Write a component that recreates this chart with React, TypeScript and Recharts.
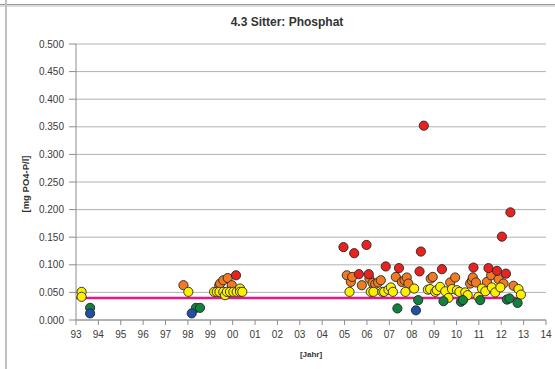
import React from 'react';
import {
  ScatterChart,
  Scatter,
  XAxis,
  YAxis,
  CartesianGrid,
  ReferenceLine
} from 'recharts';

// measured values, [year, mg PO4-P/l]
const redPoints: [number, number][] = [
  [2000.15, 0.081], [2004.95, 0.132], [2005.43, 0.121], [2005.64, 0.083], [2005.98, 0.136],
  [2006.08, 0.083], [2006.84, 0.097], [2007.43, 0.094], [2008.35, 0.088], [2008.41, 0.124],
  [2008.54, 0.352], [2009.35, 0.092], [2010.76, 0.095], [2011.43, 0.094], [2011.81, 0.089],
  [2012.03, 0.151], [2012.21, 0.084], [2012.41, 0.195],
];

const orangePoints: [number, number][] = [
  [1997.8, 0.063], [1999.4, 0.063], [1999.44, 0.066], [1999.58, 0.072], [1999.78, 0.076],
  [1999.96, 0.063], [2005.1, 0.081], [2005.28, 0.069], [2005.34, 0.078], [2005.77, 0.063],
  [2006.11, 0.075], [2006.25, 0.067], [2006.37, 0.065], [2006.5, 0.068], [2006.62, 0.072],
  [2007.29, 0.078], [2007.56, 0.069], [2007.68, 0.072], [2007.78, 0.077], [2007.85, 0.066],
  [2008.85, 0.075], [2008.94, 0.078], [2009.72, 0.068], [2009.94, 0.077], [2010.61, 0.066],
  [2010.69, 0.071], [2010.73, 0.077], [2010.87, 0.068], [2011.36, 0.069], [2011.55, 0.081],
  [2011.88, 0.074], [2012.1, 0.066], [2012.55, 0.062],
];

const yellowPoints: [number, number][] = [
  [1993.25, 0.051], [1993.25, 0.042], [1998.02, 0.051],
  [1999.17, 0.051], [1999.29, 0.051], [1999.41, 0.051], [1999.58, 0.051], [1999.66, 0.045],
  [1999.74, 0.051], [1999.88, 0.051], [2000.03, 0.051], [2000.18, 0.051], [2000.33, 0.057],
  [2000.33, 0.051], [2000.43, 0.051],
  [2005.22, 0.051], [2006.17, 0.051], [2006.29, 0.051], [2006.69, 0.051], [2006.77, 0.051],
  [2006.96, 0.055], [2007.07, 0.059], [2007.16, 0.051], [2007.72, 0.051], [2008.11, 0.057],
  [2008.72, 0.055], [2008.82, 0.056], [2009.05, 0.051], [2009.12, 0.054], [2009.27, 0.060],
  [2009.5, 0.052], [2009.64, 0.040], [2009.8, 0.056], [2010.02, 0.054], [2010.13, 0.051],
  [2010.39, 0.050], [2010.5, 0.045], [2010.98, 0.042], [2011.14, 0.057], [2011.29, 0.052],
  [2011.58, 0.059], [2011.73, 0.050], [2011.96, 0.059], [2012.77, 0.056], [2012.88, 0.046],
];

const greenPoints: [number, number][] = [
  [1993.63, 0.022], [1998.36, 0.022], [1998.54, 0.022], [2007.36, 0.021], [2008.29, 0.036],
  [2009.42, 0.034], [2010.2, 0.033], [2010.29, 0.036], [2011.06, 0.036], [2012.25, 0.037],
  [2012.37, 0.039], [2012.73, 0.031],
];

const bluePoints: [number, number][] = [
  [1993.63, 0.012], [1998.17, 0.012], [2008.19, 0.0175],
];

const targetValue = 0.04;
const targetFrom = 1993;
const targetTo = 2012.8;

const yearTicks = [1993, 1994, 1995, 1996, 1997, 1998, 1999, 2000, 2001, 2002, 2003, 2004,
  2005, 2006, 2007, 2008, 2009, 2010, 2011, 2012, 2013, 2014];
const valueTicks = [0, 0.05, 0.1, 0.15, 0.2, 0.25, 0.3, 0.35, 0.4, 0.45, 0.5];

const toRows = (pts: [number, number][]) => pts.map(([x, y]) => ({ x, y }));

const FONT = '"Liberation Sans", Arial, sans-serif';

const dot = (fill: string) => (props: any) => (
  <circle cx={props.cx} cy={props.cy} r={4.6} fill={fill} stroke="#262626" strokeWidth={0.9} />
);

export default function App() {
  const series = [
    { name: 'orange', data: orangePoints, color: '#f07b22' },
    { name: 'red', data: redPoints, color: '#e8231f' },
    { name: 'yellow', data: yellowPoints, color: '#fcf000' },
    { name: 'green', data: greenPoints, color: '#12803e' },
    { name: 'blue', data: bluePoints, color: '#2150a2' },
  ];

  return (
    <div style={{ position: 'absolute', left: 0, top: 0, width: 555, height: 369, background: '#fff', fontFamily: FONT }}>
      <div style={{ position: 'absolute', left: 0, top: 4, width: 555, height: 1, background: '#9a9a9a' }} />
      <div style={{ position: 'absolute', left: 0, top: 5, width: 555, height: 2, background: '#dcdcdc' }} />
      <div style={{ position: 'absolute', left: 5, top: 0, width: 2, height: 369, background: '#c0c0c0' }} />

      <div style={{ position: 'absolute', left: 187, top: 15, width: 200, textAlign: 'center', fontSize: 12, fontWeight: 'bold', color: '#333' }}>
        4.3 Sitter: Phosphat
      </div>
      <div style={{
        position: 'absolute', left: 25, top: 184, fontSize: 9.5, fontWeight: 'bold', color: '#333',
        transform: 'translate(-50%, -50%) rotate(-90deg)', whiteSpace: 'nowrap'
      }}>
        [mg PO4-P/l]
      </div>
      <div style={{ position: 'absolute', left: 281, top: 350, width: 60, textAlign: 'center', fontSize: 8, fontWeight: 'bold', color: '#333' }}>
        [Jahr]
      </div>

      <div style={{ position: 'absolute', left: 0, top: 0 }}>
        <ScatterChart width={555} height={369} margin={{ top: 44, right: 9, bottom: 18, left: 20 }}>
          <CartesianGrid vertical={false} stroke="#b2b2b2" />
          <XAxis
            type="number"
            dataKey="x"
            domain={[1993, 2014]}
            ticks={yearTicks}
            interval={0}
            height={31}
            tickSize={5}
            tickMargin={6}
            tickFormatter={(v: number) => String(v % 100).padStart(2, '0')}
            tick={{ fill: '#3a3a3a', fontSize: 10, fontFamily: FONT }}
            axisLine={{ stroke: '#8c8c8c' }}
            tickLine={{ stroke: '#8c8c8c' }}
          />
          <YAxis
            type="number"
            dataKey="y"
            domain={[0, 0.5]}
            ticks={valueTicks}
            interval={0}
            width={56}
            tickSize={7}
            tickMargin={5}
            tickFormatter={(v: number) => v.toFixed(3)}
            tick={{ fill: '#3a3a3a', fontSize: 10, fontFamily: FONT }}
            axisLine={{ stroke: '#8c8c8c' }}
            tickLine={{ stroke: '#8c8c8c' }}
          />
          <ReferenceLine
            segment={[{ x: targetFrom, y: targetValue }, { x: targetTo, y: targetValue }]}
            stroke="#e8168c"
            strokeWidth={2.5}
          />
          {series.map((s) => (
            <Scatter
              key={s.name}
              name={s.name}
              data={toRows(s.data)}
              shape={dot(s.color)}
              isAnimationActive={false}
            />
          ))}
        </ScatterChart>
      </div>
    </div>
  );
}
